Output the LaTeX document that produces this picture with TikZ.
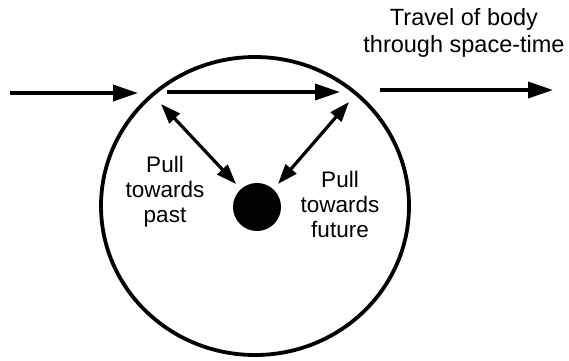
\documentclass[tikz,border=0pt]{standalone}
\usepackage{fontspec}
\setmainfont{Liberation Sans}
\usetikzlibrary{arrows.meta,shapes.geometric}
\begin{document}
\begin{tikzpicture}[x=1pt,y=-1pt,
  bigarrow/.style={line width=3.6pt,-{Triangle[length=25pt,width=16pt]}},
  duoarrow/.style={line width=3.2pt,{Triangle[length=20pt,width=14pt]}-{Triangle[length=20pt,width=14pt]}},
  lbl/.style={font=\fontsize{22.5}{25}\selectfont,align=center,inner sep=0pt}]
\useasboundingbox (0,0) rectangle (569,360);
\node[draw,line width=3.8pt,ellipse,minimum width=308pt,minimum height=298pt,inner sep=0pt] (ring) at (255,206) {};
\node[circle,fill=black,minimum size=48pt,inner sep=0pt] (mass) at (257,207) {};
\coordinate (a1) at (10,93);
\coordinate (a2) at (138,93);
\coordinate (b1) at (167,92);
\coordinate (b2) at (340,92);
\coordinate (c1) at (380,90);
\coordinate (c2) at (553,90);
\coordinate (p1) at (161,104);
\coordinate (p2) at (236,184);
\coordinate (f1) at (349,102);
\coordinate (f2) at (278,184);
\draw[bigarrow] (a1) -- (a2);
\draw[bigarrow] (b1) -- (b2);
\draw[bigarrow] (c1) -- (c2);
\draw[duoarrow] (p1) -- (p2);
\draw[duoarrow] (f1) -- (f2);
\node[lbl,font=\fontsize{23.5}{27}\selectfont] (travel) at (464,33) {Travel of body\\through space-time};
\node[lbl] (past) at (165,192) {Pull\\towards\\past};
\node[lbl] (future) at (340,204) {Pull\\towards\\future};
\end{tikzpicture}
\end{document}
